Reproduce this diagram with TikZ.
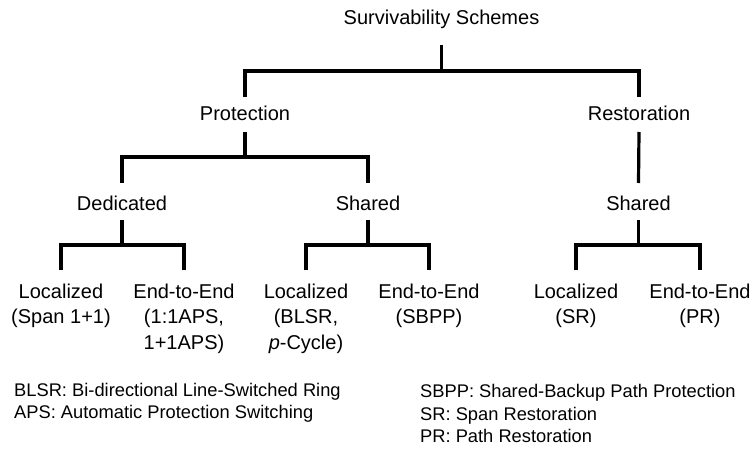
\documentclass[tikz,border=0pt]{standalone}
\usepackage{fontspec}
\setmainfont{Liberation Sans}
\begin{document}
\begin{tikzpicture}[x=1pt,y=-1pt,
  lbl/.style={font=\fontsize{20}{25.5}\selectfont, inner sep=0pt, anchor=base, align=center},
  leaf/.style={lbl, anchor=north},
  note/.style={font=\fontsize{18.3}{22.5}\selectfont, inner sep=0pt, anchor=north west, align=left},
  link/.style={draw=black, line width=3.2pt, line join=miter}
]
\useasboundingbox[fill=white] (0,0) rectangle (753,449);

% tree labels
\node[lbl] (root) at (441.5,25) {Survivability Schemes};
\node[lbl] (prot) at (245,121) {Protection};
\node[lbl] (rest) at (639,121) {Restoration};
\node[lbl] (ded)  at (122,211) {Dedicated};
\node[lbl] (shp)  at (368,211) {Shared};
\node[lbl] (shr)  at (638.5,211) {Shared};
\node[leaf] (l1) at (61,283.5)  {Localized\\(Span 1+1)};
\node[leaf] (l2) at (184,283.5) {End-to-End\\(1:1APS,\\1+1APS)};
\node[leaf] (l3) at (306,283.5) {Localized\\(BLSR,\\\textit{p}-Cycle)};
\node[leaf] (l4) at (429,283.5) {End-to-End\\(SBPP)};
\node[leaf] (l5) at (576,283.5) {Localized\\(SR)};
\node[leaf] (l6) at (700,283.5) {End-to-End\\(PR)};

% junction points of the branch bars
\coordinate (b0) at (441.5,71);
\coordinate (b1) at (245,157);
\coordinate (b2) at (122,245);
\coordinate (b3) at (368,245);
\coordinate (b4) at (638.5,245);

% branches
\draw[link] ([yshift=-20pt]root.base) -- (b0);
\draw[link] ([yshift=24pt]prot.base) |- (b0) -| ([yshift=24pt]rest.base);

\draw[link] ([yshift=-11pt]prot.base) -- (b1);
\draw[link] ([yshift=28pt]ded.base) |- (b1) -| ([yshift=28pt]shp.base);
\draw[link] ([yshift=-11pt]rest.base) -- ([yshift=28pt]shr.base);

\draw[link] ([yshift=-9pt]ded.base) -- (b2);
\draw[link] ([yshift=13pt]l1.north) |- (b2) -| ([yshift=13pt]l2.north);
\draw[link] ([yshift=-9pt]shp.base) -- (b3);
\draw[link] ([yshift=13pt]l3.north) |- (b3) -| ([yshift=13pt]l4.north);
\draw[link] ([yshift=-9pt]shr.base) -- (b4);
\draw[link] ([yshift=13pt]l5.north) |- (b4) -| ([yshift=13pt]l6.north);

% abbreviations
\node[note] (k1) at (14,383) {BLSR: Bi-directional Line-Switched Ring\\APS: Automatic Protection Switching};
\node[note] (k2) at (420,384.5) {SBPP: Shared-Backup Path Protection\\SR: Span Restoration\\PR: Path Restoration};
\end{tikzpicture}
\end{document}
